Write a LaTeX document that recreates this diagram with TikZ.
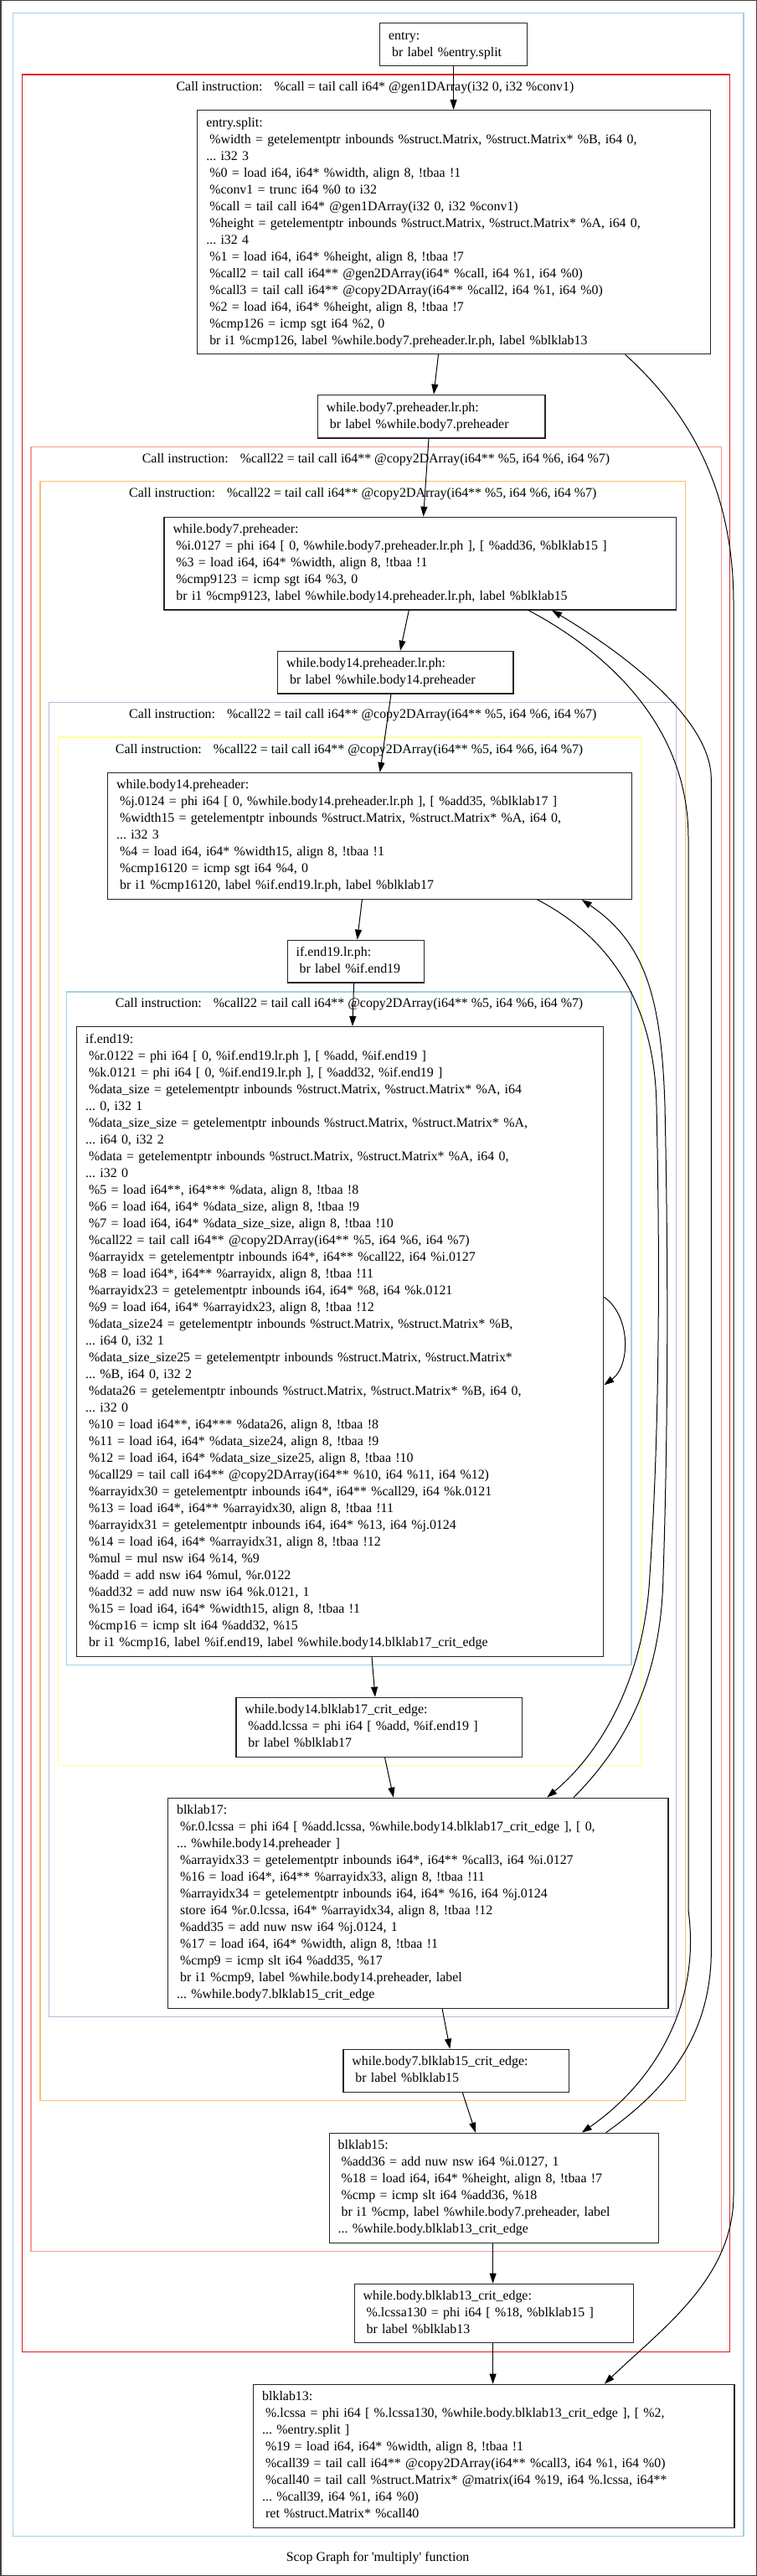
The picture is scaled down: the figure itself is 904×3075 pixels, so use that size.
\documentclass[tikz,border=0pt]{standalone}
\usepackage{fontspec}
\setmainfont{Liberation Serif}
\usetikzlibrary{arrows.meta,calc}
\definecolor{cLB}{HTML}{A6CEE3}
\definecolor{cRed}{HTML}{E31A1C}
\definecolor{cPink}{HTML}{FB9A99}
\definecolor{cOrange}{HTML}{FDBF6F}
\definecolor{cPurple}{HTML}{CAB2D6}
\definecolor{cYellow}{HTML}{FFFF99}
\frenchspacing
\newcommand\ind{\hspace*{0.25em}}
\newcommand\blines[1]{\begin{tabular}{@{}l@{}}#1\end{tabular}}
\newcommand\gfont{\fontsize{15.9pt}{20pt}\selectfont}
\tikzset{
  blk/.style={draw=black!85, line width=1.2pt, anchor=north west, align=left,
    inner xsep=10.5pt, inner ysep=0pt, font=\gfont, fill=white},
  edge/.style={draw=black, line width=1pt, -{Triangle[length=12pt,width=8pt]}},
  clus/.style={line width=1.3pt},
  clab/.style={font=\gfont, anchor=center, inner sep=0pt},
}
\begin{document}
\begin{tikzpicture}[x=1pt,y=-1pt]
\useasboundingbox (0,0) rectangle (904,3075);
\draw[black!75, line width=1.5pt] (0.75,0.75) rectangle (903.25,3074.25);
% clusters
\draw[clus, cLB] (15.6,15.7) rectangle (888,3027.7);
\draw[clus, cRed] (26.5,89) rectangle (871.7,2807.7);
\draw[clus, cPink] (36.9,533.3) rectangle (861.3,2687.3);
\draw[clus, cOrange] (47.9,574.3) rectangle (818.7,2507.7);
\draw[clus, cPurple] (58.8,838.3) rectangle (807.7,2407.3);
\draw[clus, cYellow] (69.2,880) rectangle (765.6,2107.7);
\draw[clus, cLB] (79.6,1184) rectangle (754.1,1987.7);
\node[clab] (l1) at (448,105) {Call instruction:\hspace{14pt}\%call = tail call i64* @gen1DArray(i32 0, i32 \%conv1)};
\node[clab] (l2) at (449,549) {Call instruction:\hspace{14pt}\%call22 = tail call i64** @copy2DArray(i64** \%5, i64 \%6, i64 \%7)};
\node[clab] (l3) at (433.3,590) {Call instruction:\hspace{14pt}\%call22 = tail call i64** @copy2DArray(i64** \%5, i64 \%6, i64 \%7)};
\node[clab] (l4) at (433.3,854) {Call instruction:\hspace{14pt}\%call22 = tail call i64** @copy2DArray(i64** \%5, i64 \%6, i64 \%7)};
\node[clab] (l5) at (417.1,896) {Call instruction:\hspace{14pt}\%call22 = tail call i64** @copy2DArray(i64** \%5, i64 \%6, i64 \%7)};
\node[clab] (l6) at (417.1,1199) {Call instruction:\hspace{14pt}\%call22 = tail call i64** @copy2DArray(i64** \%5, i64 \%6, i64 \%7)};
% nodes
\node[blk, text width=155pt, minimum height=51pt] (en) at (453,27) {\blines{entry:\\ \ind br label \%entry.split}};
\node[blk, text width=591.3pt, minimum height=291pt] (es) at (235.2,131) {\blines{entry.split:\\
\ind \%width = getelementptr inbounds \%struct.Matrix, \%struct.Matrix* \%B, i64 0,\\
... i32 3\\
\ind \%0 = load i64, i64* \%width, align 8, !tbaa !1\\
\ind \%conv1 = trunc i64 \%0 to i32\\
\ind \%call = tail call i64* @gen1DArray(i32 0, i32 \%conv1)\\
\ind \%height = getelementptr inbounds \%struct.Matrix, \%struct.Matrix* \%A, i64 0,\\
... i32 4\\
\ind \%1 = load i64, i64* \%height, align 8, !tbaa !7\\
\ind \%call2 = tail call i64** @gen2DArray(i64* \%call, i64 \%1, i64 \%0)\\
\ind \%call3 = tail call i64** @copy2DArray(i64** \%call2, i64 \%1, i64 \%0)\\
\ind \%2 = load i64, i64* \%height, align 8, !tbaa !7\\
\ind \%cmp126 = icmp sgt i64 \%2, 0\\
\ind br i1 \%cmp126, label \%while.body7.preheader.lr.ph, label \%blklab13}};
\node[blk, text width=250.5pt, minimum height=51.6pt] (b7lr) at (378.8,470.7) {\blines{while.body7.preheader.lr.ph:\\ \ind br label \%while.body7.preheader}};
\node[blk, text width=590.2pt, minimum height=110.6pt] (b7) at (195.4,616.7) {\blines{while.body7.preheader:\\
\ind \%i.0127 = phi i64 [ 0, \%while.body7.preheader.lr.ph ], [ \%add36, \%blklab15 ]\\
\ind \%3 = load i64, i64* \%width, align 8, !tbaa !1\\
\ind \%cmp9123 = icmp sgt i64 \%3, 0\\
\ind br i1 \%cmp9123, label \%while.body14.preheader.lr.ph, label \%blklab15}};
\node[blk, text width=260.3pt, minimum height=50.6pt] (b14lr) at (331,776.7) {\blines{while.body14.preheader.lr.ph:\\ \ind br label \%while.body14.preheader}};
\node[blk, text width=605.1pt, minimum height=150.7pt] (b14) at (128,922) {\blines{while.body14.preheader:\\
\ind \%j.0124 = phi i64 [ 0, \%while.body14.preheader.lr.ph ], [ \%add35, \%blklab17 ]\\
\ind \%width15 = getelementptr inbounds \%struct.Matrix, \%struct.Matrix* \%A, i64 0,\\
... i32 3\\
\ind \%4 = load i64, i64* \%width15, align 8, !tbaa !1\\
\ind \%cmp16120 = icmp sgt i64 \%4, 0\\
\ind br i1 \%cmp16120, label \%if.end19.lr.ph, label \%blklab17}};
\node[blk, text width=142.1pt, minimum height=50.6pt] (ie19lr) at (342.5,1121.7) {\blines{if.end19.lr.ph:\\ \ind br label \%if.end19}};
\node[blk, text width=608pt, minimum height=751.7pt] (ie19) at (91.1,1225) {\blines{if.end19:\\
\ind \%r.0122 = phi i64 [ 0, \%if.end19.lr.ph ], [ \%add, \%if.end19 ]\\
\ind \%k.0121 = phi i64 [ 0, \%if.end19.lr.ph ], [ \%add32, \%if.end19 ]\\
\ind \%data\_size = getelementptr inbounds \%struct.Matrix, \%struct.Matrix* \%A, i64\\
... 0, i32 1\\
\ind \%data\_size\_size = getelementptr inbounds \%struct.Matrix, \%struct.Matrix* \%A,\\
... i64 0, i32 2\\
\ind \%data = getelementptr inbounds \%struct.Matrix, \%struct.Matrix* \%A, i64 0,\\
... i32 0\\
\ind \%5 = load i64**, i64*** \%data, align 8, !tbaa !8\\
\ind \%6 = load i64, i64* \%data\_size, align 8, !tbaa !9\\
\ind \%7 = load i64, i64* \%data\_size\_size, align 8, !tbaa !10\\
\ind \%call22 = tail call i64** @copy2DArray(i64** \%5, i64 \%6, i64 \%7)\\
\ind \%arrayidx = getelementptr inbounds i64*, i64** \%call22, i64 \%i.0127\\
\ind \%8 = load i64*, i64** \%arrayidx, align 8, !tbaa !11\\
\ind \%arrayidx23 = getelementptr inbounds i64, i64* \%8, i64 \%k.0121\\
\ind \%9 = load i64, i64* \%arrayidx23, align 8, !tbaa !12\\
\ind \%data\_size24 = getelementptr inbounds \%struct.Matrix, \%struct.Matrix* \%B,\\
... i64 0, i32 1\\
\ind \%data\_size\_size25 = getelementptr inbounds \%struct.Matrix, \%struct.Matrix*\\
... \%B, i64 0, i32 2\\
\ind \%data26 = getelementptr inbounds \%struct.Matrix, \%struct.Matrix* \%B, i64 0,\\
... i32 0\\
\ind \%10 = load i64**, i64*** \%data26, align 8, !tbaa !8\\
\ind \%11 = load i64, i64* \%data\_size24, align 8, !tbaa !9\\
\ind \%12 = load i64, i64* \%data\_size\_size25, align 8, !tbaa !10\\
\ind \%call29 = tail call i64** @copy2DArray(i64** \%10, i64 \%11, i64 \%12)\\
\ind \%arrayidx30 = getelementptr inbounds i64*, i64** \%call29, i64 \%k.0121\\
\ind \%13 = load i64*, i64** \%arrayidx30, align 8, !tbaa !11\\
\ind \%arrayidx31 = getelementptr inbounds i64, i64* \%13, i64 \%j.0124\\
\ind \%14 = load i64, i64* \%arrayidx31, align 8, !tbaa !12\\
\ind \%mul = mul nsw i64 \%14, \%9\\
\ind \%add = add nsw i64 \%mul, \%r.0122\\
\ind \%add32 = add nuw nsw i64 \%k.0121, 1\\
\ind \%15 = load i64, i64* \%width15, align 8, !tbaa !1\\
\ind \%cmp16 = icmp slt i64 \%add32, \%15\\
\ind br i1 \%cmp16, label \%if.end19, label \%while.body14.blklab17\_crit\_edge}};
\node[blk, text width=320.4pt, minimum height=71pt] (c17) at (281.3,2025.7) {\blines{while.body14.blklab17\_crit\_edge:\\
\ind \%add.lcssa = phi i64 [ \%add, \%if.end19 ]\\
\ind br label \%blklab17}};
\node[blk, text width=576.3pt, minimum height=251pt] (bl17) at (200,2145.7) {\blines{blklab17:\\
\ind \%r.0.lcssa = phi i64 [ \%add.lcssa, \%while.body14.blklab17\_crit\_edge ], [ 0,\\
... \%while.body14.preheader ]\\
\ind \%arrayidx33 = getelementptr inbounds i64*, i64** \%call3, i64 \%i.0127\\
\ind \%16 = load i64*, i64** \%arrayidx33, align 8, !tbaa !11\\
\ind \%arrayidx34 = getelementptr inbounds i64, i64* \%16, i64 \%j.0124\\
\ind store i64 \%r.0.lcssa, i64* \%arrayidx34, align 8, !tbaa !12\\
\ind \%add35 = add nuw nsw i64 \%j.0124, 1\\
\ind \%17 = load i64, i64* \%width, align 8, !tbaa !1\\
\ind \%cmp9 = icmp slt i64 \%add35, \%17\\
\ind br i1 \%cmp9, label \%while.body14.preheader, label\\
... \%while.body7.blklab15\_crit\_edge}};
\node[blk, text width=248.3pt, minimum height=51pt] (c15) at (409.3,2445.7) {\blines{while.body7.blklab15\_crit\_edge:\\ \ind br label \%blklab15}};
\node[blk, text width=372.2pt, minimum height=131pt] (bl15) at (392.6,2545.7) {\blines{blklab15:\\
\ind \%add36 = add nuw nsw i64 \%i.0127, 1\\
\ind \%18 = load i64, i64* \%height, align 8, !tbaa !7\\
\ind \%cmp = icmp slt i64 \%add36, \%18\\
\ind br i1 \%cmp, label \%while.body7.preheader, label\\
... \%while.body.blklab13\_crit\_edge}};
\node[blk, text width=312.2pt, minimum height=70.3pt] (c13) at (422.6,2725.7) {\blines{while.body.blklab13\_crit\_edge:\\
\ind \%.lcssa130 = phi i64 [ \%18, \%blklab15 ]\\
\ind br label \%blklab13}};
\node[blk, text width=553.2pt, minimum height=171pt] (bl13) at (302.1,2845.7) {\blines{blklab13:\\
\ind \%.lcssa = phi i64 [ \%.lcssa130, \%while.body.blklab13\_crit\_edge ], [ \%2,\\
... \%entry.split ]\\
\ind \%19 = load i64, i64* \%width, align 8, !tbaa !1\\
\ind \%call39 = tail call i64** @copy2DArray(i64** \%call3, i64 \%1, i64 \%0)\\
\ind \%call40 = tail call \%struct.Matrix* @matrix(i64 \%19, i64 \%.lcssa, i64**\\
... \%call39, i64 \%1, i64 \%0)\\
\ind ret \%struct.Matrix* \%call40}};
\node[clab] (gl) at (451.1,3053.5) {Scop Graph for \textquotesingle multiply\textquotesingle\ function};
% straight edges
\draw[edge] (en.south) -- (en.south |- es.north);
\draw[edge] ($(es.south west)+(288.3,0)$) -- ($(b7lr.north west)+(139.2,0)$);
\draw[edge] ($(b7lr.south west)+(133.2,0)$) -- ($(b7.north west)+(310.2,0)$);
\draw[edge] ($(b7.south west)+(292.9,0)$) -- ($(b14lr.north west)+(147,0)$);
\draw[edge] ($(b14lr.south west)+(136,0)$) -- ($(b14.north west)+(325.7,0)$);
\draw[edge] ($(b14.south west)+(304.4,0)$) -- ($(ie19lr.north west)+(84.1,0)$);
\draw[edge] ($(ie19lr.south west)+(80.1,0)$) -- ($(ie19.north west)+(329.8,0)$);
\draw[edge] ($(ie19.north east)+(0,323.3)$) .. controls +(32,22) and +(32,-23) .. ($(ie19.north east)+(0,428.3)$);
\draw[edge] ($(ie19.south west)+(352.9,0)$) -- ($(c17.north west)+(166.7,0)$);
\draw[edge] ($(c17.south west)+(178.2,0)$) -- ($(bl17.north west)+(269.9,0)$);
\draw[edge] ($(bl17.south west)+(328.1,0)$) -- ($(c15.north west)+(128,0)$);
\draw[edge] ($(c15.south west)+(143,0)$) -- ($(bl15.north west)+(175.3,0)$);
\draw[edge] ($(bl15.south west)+(196,0)$) -- ($(c13.north west)+(166,0)$);
\draw[edge] ($(c13.south west)+(166,0)$) -- ($(bl13.north west)+(286.5,0)$);
% curved edges
\draw[edge] ($(b7.south west)+(435.6,0)$) .. controls (700,765) and (822,850) .. (822,1000)
  -- (822,2280) .. controls (838,2400) and (775,2490) .. ($(bl15.north west)+(302.1,0)$);
\draw[edge] ($(bl15.north west)+(331,0)$) .. controls (795,2495) and (852,2430) .. (849.3,2320)
  -- (849.3,930) .. controls (849.3,850) and (720,765) .. ($(b7.south west)+(463.6,0)$);
\draw[edge] ($(b14.south west)+(513.7,0)$) .. controls (730,1120) and (782,1200) .. (784,1320)
  .. controls (788,1500) and (788,1700) .. (776,1880)
  .. controls (770,2000) and (720,2090) .. ($(bl17.north west)+(453.2,0)$);
\draw[edge] ($(bl17.north west)+(485,0)$) .. controls (750,2080) and (790,2000) .. (792,1880)
  .. controls (798,1700) and (798,1500) .. (794,1320)
  .. controls (790,1190) and (770,1125) .. ($(b14.south west)+(566.7,0)$);
\draw[edge] ($(es.south west)+(511.4,0)$) .. controls (820,490) and (876,580) .. (876,720)
  -- (876,2620) .. controls (876,2720) and (790,2780) .. ($(bl13.north west)+(419.7,0)$);
\end{tikzpicture}
\end{document}
